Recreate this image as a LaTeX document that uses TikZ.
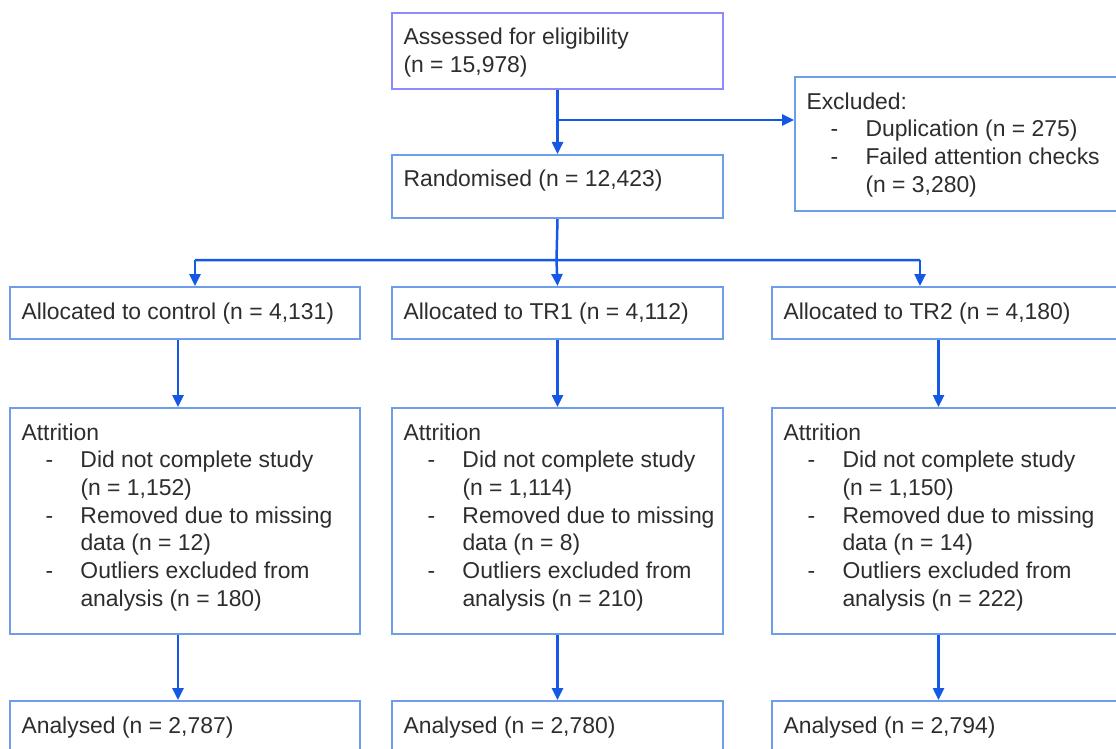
\documentclass[tikz,border=0pt]{standalone}
\usepackage{fontspec}
\setmainfont{Liberation Sans}
\usepackage{xcolor}
\usetikzlibrary{arrows.meta}
\definecolor{boxblue}{RGB}{110,158,235}
\definecolor{topblue}{RGB}{140,140,255}
\definecolor{arrblue}{RGB}{22,88,230}
\definecolor{txtgray}{RGB}{45,45,45}
\newcommand{\boxtext}[3]{\parbox[c][#2][t]{#1}{\raggedright\leftskip=11.5pt\rule{0pt}{32pt}#3}}
\newcommand{\itm}{\hspace*{24pt}\makebox[35pt][l]{-}}
\newcommand{\more}{\hspace*{59pt}}

\begin{document}
\begin{tikzpicture}[x=1pt,y=-1pt,
    box/.style={draw=boxblue,line width=2pt,inner sep=0pt,anchor=north west,
        text=txtgray,font=\fontsize{22.9}{27.7}\selectfont},
    arr/.style={draw=arrblue,line width=2.5pt,-{Triangle[length=12pt,width=11pt]}}]
            \useasboundingbox (0,0) rectangle (1116,749);
            \clip (0,0) rectangle (1116,749);
            \node (assess) at (391,12) [box,draw=topblue] {\boxtext{331pt}{76pt}{Assessed for eligibility\\(n = 15,978)}};
            \node (excl) at (794,76) [box] {\boxtext{340pt}{134pt}{Excluded:\\\itm Duplication (n = 275)\\\itm Failed attention checks\\\more(n = 3,280)}};
            \node (rand) at (391,154) [box] {\boxtext{331pt}{63pt}{Randomised (n = 12,423)}};
            \node (allocC) at (9,286) [box] {\boxtext{350pt}{52pt}{Allocated to control (n = 4,131)}};
            \node (allocA) at (391,286) [box] {\boxtext{331pt}{52pt}{Allocated to TR1 (n = 4,112)}};
            \node (allocB) at (771,286) [box] {\boxtext{360pt}{52pt}{Allocated to TR2 (n = 4,180)}};
            \node (attrC) at (9,407) [box] {\boxtext{350pt}{226pt}{Attrition\\\itm Did not complete study\\\more(n = 1,152)\\\itm Removed due to missing\\\more data (n = 12)\\\itm Outliers excluded from\\\more analysis (n = 180)}};
            \node (attrA) at (391,407) [box] {\boxtext{331pt}{226pt}{Attrition\\\itm Did not complete study\\\more(n = 1,114)\\\itm Removed due to missing\\\more data (n = 8)\\\itm Outliers excluded from\\\more analysis (n = 210)}};
            \node (attrB) at (771,407) [box] {\boxtext{360pt}{226pt}{Attrition\\\itm Did not complete study\\\more(n = 1,150)\\\itm Removed due to missing\\\more data (n = 14)\\\itm Outliers excluded from\\\more analysis (n = 222)}};
            \node (anaC) at (9,700) [box] {\boxtext{350pt}{80pt}{Analysed (n = 2,787)}};
            \node (anaA) at (391,700) [box] {\boxtext{331pt}{80pt}{Analysed (n = 2,780)}};
            \node (anaB) at (771,700) [box] {\boxtext{360pt}{80pt}{Analysed (n = 2,794)}};
            \coordinate (split) at (556.5,120);
            \coordinate (hub) at (556.5,260);
            \coordinate (hubC) at (195,260);
            \coordinate (hubB) at (920,260);
            \coordinate (colC) at (178,0);
            \coordinate (colB) at (938.5,0);
            \draw[arr] (assess.south) -- (rand.north);
            \draw[arr] (split) -- (split -| excl.west);
            \draw[draw=arrblue,line width=2.5pt] (rand.south) -- (hub) (hubC) -- (hubB);
            \draw[arr] (hubC) -- (hubC |- allocC.north);
            \draw[arr] (hub) -- (allocA.north);
            \draw[arr] (hubB) -- (hubB |- allocB.north);
            \draw[arr] (colC |- allocC.south) -- (colC |- attrC.north);
            \draw[arr] (allocA.south) -- (attrA.north);
            \draw[arr] (colB |- allocB.south) -- (colB |- attrB.north);
            \draw[arr] (colC |- attrC.south) -- (colC |- anaC.north);
            \draw[arr] (attrA.south) -- (anaA.north);
            \draw[arr] (colB |- attrB.south) -- (colB |- anaB.north);
        \end{tikzpicture}
\end{document}
